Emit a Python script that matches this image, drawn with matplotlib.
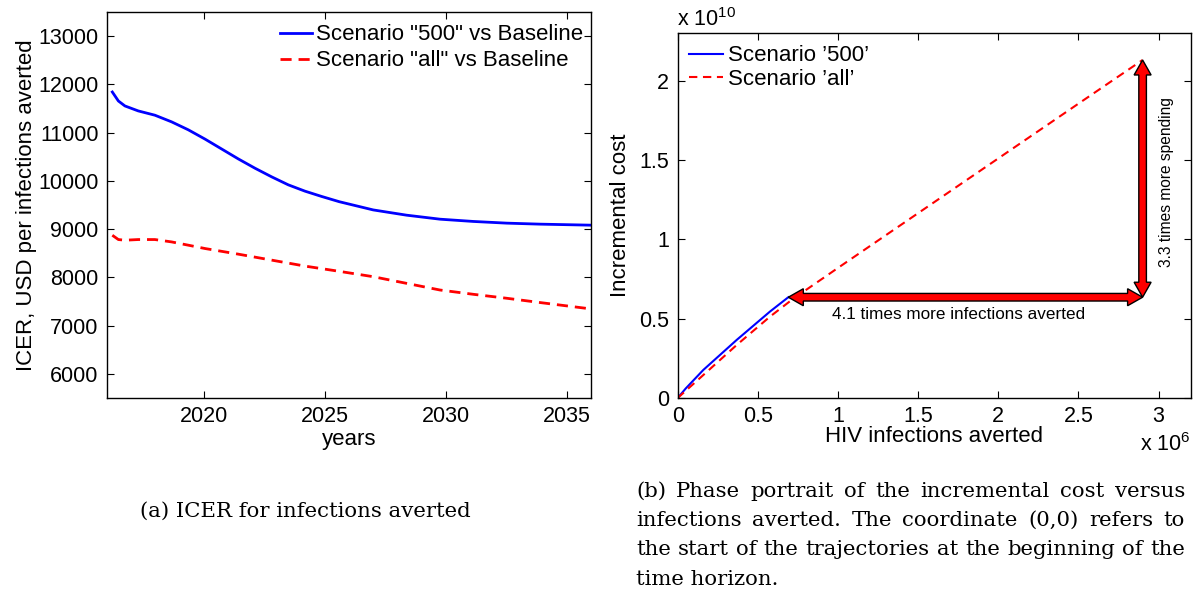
import numpy as np
import matplotlib
matplotlib.use("Agg")
import matplotlib.pyplot as plt
from matplotlib.patches import Polygon
from matplotlib.ticker import FuncFormatter

plt.rcParams['font.family'] = ['Liberation Sans', 'DejaVu Sans']
plt.rcParams['mathtext.fontset'] = 'custom'
plt.rcParams['mathtext.rm'] = 'Liberation Sans'
plt.rcParams['mathtext.it'] = 'Liberation Sans'

# ---------------- data (panel a) ----------------
years_500 = [2016.22, 2016.47, 2016.74, 2017.29, 2017.98, 2018.67, 2019.36, 2020.05,
             2020.74, 2021.43, 2022.12, 2022.81, 2023.49, 2024.18, 2024.87, 2025.6,
             2027.0, 2028.38, 2029.76, 2031.14, 2032.52, 2033.9, 2036.0]
icer_500 = [11842, 11656, 11553, 11450, 11361, 11223, 11058, 10866,
            10660, 10454, 10261, 10082, 9918, 9787, 9677, 9568,
            9398, 9289, 9206, 9159, 9124, 9103, 9082]

years_all = [2016.22, 2016.47, 2016.74, 2017.29, 2017.98, 2018.67, 2019.36, 2020.05,
             2021.43, 2022.81, 2024.18, 2025.6, 2027.0, 2028.38, 2029.76, 2031.14,
             2032.52, 2033.9, 2036.0]
icer_all = [8873, 8784, 8770, 8784, 8784, 8735, 8667, 8598,
            8481, 8357, 8234, 8125, 8014, 7876, 7738, 7649,
            7567, 7478, 7346]

xticks_a = [2020, 2025, 2030, 2035]
yticks_a = [6000, 7000, 8000, 9000, 10000, 11000, 12000, 13000]

# ---------------- data (panel b) ----------------
averted_500 = [0.0, 0.05e6, 0.16e6, 0.368e6, 0.576e6, 0.69e6]
cost_500 = [0.0, 0.06e10, 0.177e10, 0.366e10, 0.545e10, 0.635e10]

averted_all = [0.0, 0.16e6, 0.368e6, 0.576e6, 0.72e6, 1.0e6, 1.5e6, 2.0e6, 2.5e6, 2.9e6]
cost_all = [0.0, 0.145e10, 0.334e10, 0.513e10, 0.625e10, 0.82e10, 1.165e10, 1.51e10, 1.855e10, 2.13e10]

xticks_b = [0, 0.5e6, 1e6, 1.5e6, 2e6, 2.5e6, 3e6]
yticks_b = [0, 0.5e10, 1e10, 1.5e10, 2e10]

W, H = 1193, 600
fig = plt.figure(figsize=(W / 100, H / 100), dpi=100)

TICK_FS = 15.5
LAB_FS = 16
LEG_FS = 16


def style(ax):
    ax.tick_params(direction='in', top=True, right=True, length=5, width=0.8,
                   labelsize=TICK_FS, pad=6)
    for s in ax.spines.values():
        s.set_linewidth(1.0)


# ---------------- panel a ----------------
axa = fig.add_axes([107 / W, 1 - 398 / H, 484 / W, 386 / H])
axa.plot(years_500, icer_500, color='#0000ff', lw=2.0, label='Scenario "500" vs Baseline')
axa.plot(years_all, icer_all, color='#ff0000', lw=2.0, ls=(0, (4, 2.5)),
         label='Scenario "all" vs Baseline')
axa.set_xlim(2016, 2036)
axa.set_ylim(5500, 13500)
axa.set_xticks(xticks_a)
axa.set_yticks(yticks_a)
style(axa)
axa.set_xlabel('years', fontsize=LAB_FS, labelpad=1)
axa.set_ylabel('ICER, USD per infections averted', fontsize=LAB_FS, labelpad=1)
axa.legend(loc='upper left', bbox_to_anchor=(0.357, 0.968), frameon=False,
           fontsize=LEG_FS, handlelength=1.45, handletextpad=0.2, labelspacing=0.23,
           borderpad=0, borderaxespad=0)

# ---------------- panel b ----------------
axb = fig.add_axes([677.7 / W, 1 - 398 / H, 513 / W, 365 / H])
axb.plot(averted_500, cost_500, color='#0000ff', lw=1.5, label="Scenario \u2019500\u2019")
axb.plot(averted_all, cost_all, color='#ff0000', lw=1.5, ls=(0, (4, 2.7)),
         label="Scenario \u2019all\u2019")
axb.set_xlim(0, 3.2e6)
axb.set_ylim(0, 2.3e10)
axb.set_xticks(xticks_b)
axb.set_yticks(yticks_b)
axb.xaxis.set_major_formatter(FuncFormatter(lambda v, p: '%g' % (v / 1e6)))
axb.yaxis.set_major_formatter(FuncFormatter(lambda v, p: '%g' % (v / 1e10)))
style(axb)
axb.set_xlabel('HIV infections averted', fontsize=LAB_FS, labelpad=-1)
axb.set_ylabel('Incremental cost', fontsize=LAB_FS, labelpad=6)
axb.legend(loc='upper left', bbox_to_anchor=(0.022, 0.966), frameon=False,
           fontsize=LEG_FS, handlelength=1.55, handletextpad=0.2, labelspacing=0.1,
           borderpad=0, borderaxespad=0)

fig.text(677 / W, 1 - 20 / H, r'x 10$^{10}$', fontsize=TICK_FS, ha='left', va='center')
fig.text(1191 / W, 1 - 445 / H, r'x 10$^{6}$', fontsize=TICK_FS, ha='right', va='center')


# double-headed fat arrows (built in display space from data endpoints)
def double_arrow(ax, p0, p1, shaft=3.8, head_len=15, head_w=8.5):
    a = ax.transData.transform(p0)
    b = ax.transData.transform(p1)
    d = b - a
    L = np.hypot(*d)
    u = d / L
    n = np.array([-u[1], u[0]])
    pts = [
        a,
        a + u * head_len + n * head_w,
        a + u * head_len + n * shaft,
        b - u * head_len + n * shaft,
        b - u * head_len + n * head_w,
        b,
        b - u * head_len - n * head_w,
        b - u * head_len - n * shaft,
        a + u * head_len - n * shaft,
        a + u * head_len - n * head_w,
    ]
    poly = Polygon(pts, closed=True, transform=None, facecolor='#ff0000',
                   edgecolor='black', lw=1.0, zorder=5)
    fig.add_artist(poly)


x500, y500 = averted_500[-1], cost_500[-1]
xall, yall = averted_all[-1], cost_all[-1]
double_arrow(axb, (x500, y500), (xall, y500))
double_arrow(axb, (xall, y500), (xall, yall))

axb.text((x500 + xall) / 2 - 0.045e6, y500 - 0.11e10, '4.1 times more infections averted',
         fontsize=12.3, ha='center', va='center')
axb.text(xall + 0.15e6, (y500 + yall) / 2 - 0.02e10, '3.3 times more spending',
         fontsize=11.2, ha='center', va='center', rotation=90)

# ---------------- captions ----------------
cap_font = 'DejaVu Serif'
CAP_FS = 15.3
fig.text(305 / W, 1 - 517 / H, '(a) ICER for infections averted', family=cap_font,
         fontsize=CAP_FS, ha='center', va='baseline')

cap_b = ['(b) Phase portrait of the incremental cost versus',
         'infections averted.  The coordinate (0,0) refers to',
         'the start of the trajectories at the beginning of the',
         'time horizon.']
renderer = fig.canvas.get_renderer()
x_left, x_right = 636.0, 1185.0
for i, line in enumerate(cap_b):
    yb = 1 - (497 + 29.2 * i) / H
    words = line.split()
    if i == len(cap_b) - 1:
        fig.text(x_left / W, yb, line, family=cap_font, fontsize=CAP_FS,
                 ha='left', va='baseline')
        continue
    texts = [fig.text(0, yb, w, family=cap_font, fontsize=CAP_FS, ha='left',
                      va='baseline') for w in words]
    widths = [t.get_window_extent(renderer).width for t in texts]
    gap = (x_right - x_left - sum(widths)) / (len(words) - 1)
    x = x_left
    for t, wdt in zip(texts, widths):
        t.set_x(x / W)
        x += wdt + gap

fig.savefig('out.png', dpi=100)
